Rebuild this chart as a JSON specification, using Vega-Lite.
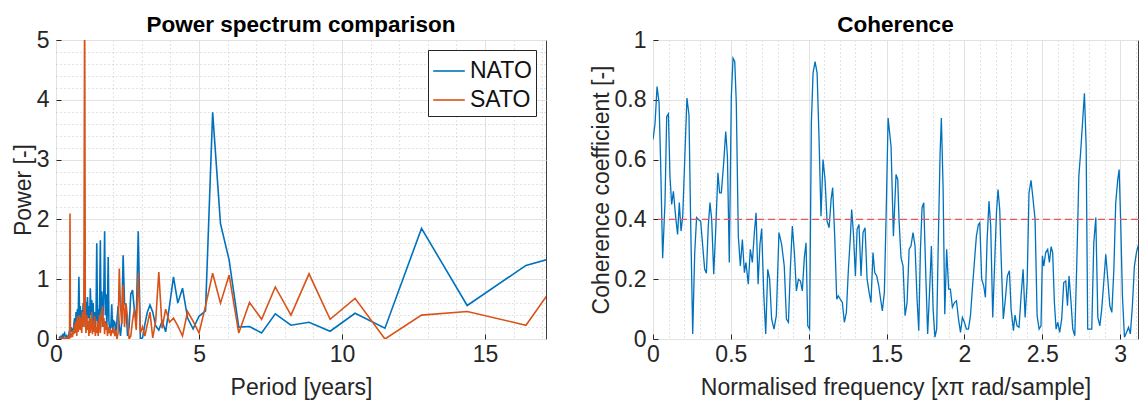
{
  "$schema": "https://vega.github.io/schema/vega-lite/v6.json",
  "background": "white",
  "padding": {"left": 11, "top": 13, "right": 0, "bottom": 0},
  "spacing": 42,
  "resolve": {"legend": {"color": "independent"}, "scale": {"color": "independent"}},
  "config": {
    "font": "Liberation Sans",
    "view": {"stroke": "#404040", "strokeWidth": 1},
    "axis": {
      "labelFontSize": 23,
      "labelColor": "#262626",
      "titleFontSize": 23,
      "titleFontWeight": "normal",
      "titleColor": "#262626",
      "domain": false,
      "tickColor": "#262626",
      "tickSize": -5,
      "labelPadding": 12,
      "titlePadding": 1,
      "labelOverlap": false,
      "labelFlush": false,
      "gridWidth": 1
    },
    "axisX": {"labelPadding": 9, "titlePadding": 10},
    "title": {"fontSize": 22.5, "fontWeight": "bold", "color": "#000000", "offset": -7}
  },
  "hconcat": [
    {
      "width": 490,
      "height": 299,
      "title": "Power spectrum comparison",
      "data": {"values": [
        {"period": 0.100, "power": 0.02, "series": "NATO"},
        {"period": 0.125, "power": 0.03, "series": "NATO"},
        {"period": 0.150, "power": 0.01, "series": "NATO"},
        {"period": 0.175, "power": 0.04, "series": "NATO"},
        {"period": 0.200, "power": 0.02, "series": "NATO"},
        {"period": 0.225, "power": 0.06, "series": "NATO"},
        {"period": 0.250, "power": 0.03, "series": "NATO"},
        {"period": 0.275, "power": 0.08, "series": "NATO"},
        {"period": 0.300, "power": 0.10, "series": "NATO"},
        {"period": 0.325, "power": 0.04, "series": "NATO"},
        {"period": 0.350, "power": 0.02, "series": "NATO"},
        {"period": 0.375, "power": 0.05, "series": "NATO"},
        {"period": 0.400, "power": 0.01, "series": "NATO"},
        {"period": 0.425, "power": 0.03, "series": "NATO"},
        {"period": 0.450, "power": 0.08, "series": "NATO"},
        {"period": 0.475, "power": 0.15, "series": "NATO"},
        {"period": 0.500, "power": 0.05, "series": "NATO"},
        {"period": 0.525, "power": 0.20, "series": "NATO"},
        {"period": 0.550, "power": 0.12, "series": "NATO"},
        {"period": 0.575, "power": 0.18, "series": "NATO"},
        {"period": 0.600, "power": 0.08, "series": "NATO"},
        {"period": 0.625, "power": 0.25, "series": "NATO"},
        {"period": 0.650, "power": 0.35, "series": "NATO"},
        {"period": 0.675, "power": 0.15, "series": "NATO"},
        {"period": 0.700, "power": 0.45, "series": "NATO"},
        {"period": 0.725, "power": 0.28, "series": "NATO"},
        {"period": 0.750, "power": 0.50, "series": "NATO"},
        {"period": 0.775, "power": 0.30, "series": "NATO"},
        {"period": 0.800, "power": 1.04, "series": "NATO"},
        {"period": 0.825, "power": 0.35, "series": "NATO"},
        {"period": 0.850, "power": 0.55, "series": "NATO"},
        {"period": 0.875, "power": 0.25, "series": "NATO"},
        {"period": 0.900, "power": 0.48, "series": "NATO"},
        {"period": 0.925, "power": 0.30, "series": "NATO"},
        {"period": 0.950, "power": 0.60, "series": "NATO"},
        {"period": 0.975, "power": 0.20, "series": "NATO"},
        {"period": 1.000, "power": 1.33, "series": "NATO"},
        {"period": 1.025, "power": 0.40, "series": "NATO"},
        {"period": 1.050, "power": 0.62, "series": "NATO"},
        {"period": 1.075, "power": 0.30, "series": "NATO"},
        {"period": 1.100, "power": 0.70, "series": "NATO"},
        {"period": 1.125, "power": 0.35, "series": "NATO"},
        {"period": 1.150, "power": 0.55, "series": "NATO"},
        {"period": 1.175, "power": 0.25, "series": "NATO"},
        {"period": 1.200, "power": 0.85, "series": "NATO"},
        {"period": 1.225, "power": 0.40, "series": "NATO"},
        {"period": 1.250, "power": 0.65, "series": "NATO"},
        {"period": 1.275, "power": 0.20, "series": "NATO"},
        {"period": 1.300, "power": 0.60, "series": "NATO"},
        {"period": 1.325, "power": 0.15, "series": "NATO"},
        {"period": 1.350, "power": 0.45, "series": "NATO"},
        {"period": 1.375, "power": 0.20, "series": "NATO"},
        {"period": 1.400, "power": 0.40, "series": "NATO"},
        {"period": 1.425, "power": 1.60, "series": "NATO"},
        {"period": 1.450, "power": 0.30, "series": "NATO"},
        {"period": 1.475, "power": 0.50, "series": "NATO"},
        {"period": 1.500, "power": 0.25, "series": "NATO"},
        {"period": 1.525, "power": 0.60, "series": "NATO"},
        {"period": 1.550, "power": 1.65, "series": "NATO"},
        {"period": 1.575, "power": 0.35, "series": "NATO"},
        {"period": 1.600, "power": 0.80, "series": "NATO"},
        {"period": 1.625, "power": 0.20, "series": "NATO"},
        {"period": 1.650, "power": 0.50, "series": "NATO"},
        {"period": 1.675, "power": 0.90, "series": "NATO"},
        {"period": 1.700, "power": 1.80, "series": "NATO"},
        {"period": 1.725, "power": 0.40, "series": "NATO"},
        {"period": 1.750, "power": 0.75, "series": "NATO"},
        {"period": 1.775, "power": 0.20, "series": "NATO"},
        {"period": 1.800, "power": 0.55, "series": "NATO"},
        {"period": 1.825, "power": 1.37, "series": "NATO"},
        {"period": 1.850, "power": 0.30, "series": "NATO"},
        {"period": 1.875, "power": 0.15, "series": "NATO"},
        {"period": 1.917, "power": 0.20, "series": "NATO"},
        {"period": 1.949, "power": 0.58, "series": "NATO"},
        {"period": 1.983, "power": 0.10, "series": "NATO"},
        {"period": 2.018, "power": 0.30, "series": "NATO"},
        {"period": 2.054, "power": 0.28, "series": "NATO"},
        {"period": 2.091, "power": 0.10, "series": "NATO"},
        {"period": 2.130, "power": 0.30, "series": "NATO"},
        {"period": 2.170, "power": 0.55, "series": "NATO"},
        {"period": 2.212, "power": 0.20, "series": "NATO"},
        {"period": 2.255, "power": 0.05, "series": "NATO"},
        {"period": 2.300, "power": 0.30, "series": "NATO"},
        {"period": 2.347, "power": 1.40, "series": "NATO"},
        {"period": 2.396, "power": 0.60, "series": "NATO"},
        {"period": 2.447, "power": 0.55, "series": "NATO"},
        {"period": 2.500, "power": 0.05, "series": "NATO"},
        {"period": 2.556, "power": 0.20, "series": "NATO"},
        {"period": 2.614, "power": 0.75, "series": "NATO"},
        {"period": 2.674, "power": 0.82, "series": "NATO"},
        {"period": 2.738, "power": 0.50, "series": "NATO"},
        {"period": 2.805, "power": 0.30, "series": "NATO"},
        {"period": 2.875, "power": 1.80, "series": "NATO"},
        {"period": 2.949, "power": 0.00, "series": "NATO"},
        {"period": 3.026, "power": 0.02, "series": "NATO"},
        {"period": 3.108, "power": 0.25, "series": "NATO"},
        {"period": 3.194, "power": 0.45, "series": "NATO"},
        {"period": 3.286, "power": 0.57, "series": "NATO"},
        {"period": 3.382, "power": 0.45, "series": "NATO"},
        {"period": 3.485, "power": 0.22, "series": "NATO"},
        {"period": 3.594, "power": 0.15, "series": "NATO"},
        {"period": 3.710, "power": 0.30, "series": "NATO"},
        {"period": 3.833, "power": 0.12, "series": "NATO"},
        {"period": 3.966, "power": 0.55, "series": "NATO"},
        {"period": 4.107, "power": 1.04, "series": "NATO"},
        {"period": 4.259, "power": 0.60, "series": "NATO"},
        {"period": 4.423, "power": 0.85, "series": "NATO"},
        {"period": 4.600, "power": 0.35, "series": "NATO"},
        {"period": 4.792, "power": 0.17, "series": "NATO"},
        {"period": 5.000, "power": 0.38, "series": "NATO"},
        {"period": 5.227, "power": 0.47, "series": "NATO"},
        {"period": 5.476, "power": 3.79, "series": "NATO"},
        {"period": 5.750, "power": 1.93, "series": "NATO"},
        {"period": 6.053, "power": 1.32, "series": "NATO"},
        {"period": 6.389, "power": 0.20, "series": "NATO"},
        {"period": 6.765, "power": 0.21, "series": "NATO"},
        {"period": 7.188, "power": 0.10, "series": "NATO"},
        {"period": 7.667, "power": 0.42, "series": "NATO"},
        {"period": 8.214, "power": 0.23, "series": "NATO"},
        {"period": 8.846, "power": 0.28, "series": "NATO"},
        {"period": 9.583, "power": 0.13, "series": "NATO"},
        {"period": 10.455, "power": 0.43, "series": "NATO"},
        {"period": 11.500, "power": 0.18, "series": "NATO"},
        {"period": 12.778, "power": 1.85, "series": "NATO"},
        {"period": 14.375, "power": 0.56, "series": "NATO"},
        {"period": 16.429, "power": 1.23, "series": "NATO"},
        {"period": 19.167, "power": 1.59, "series": "NATO"},
        {"period": 0.100, "power": 0.00, "series": "SATO"},
        {"period": 0.125, "power": 0.01, "series": "SATO"},
        {"period": 0.150, "power": 0.00, "series": "SATO"},
        {"period": 0.175, "power": 0.02, "series": "SATO"},
        {"period": 0.200, "power": 0.00, "series": "SATO"},
        {"period": 0.225, "power": 0.01, "series": "SATO"},
        {"period": 0.250, "power": 0.00, "series": "SATO"},
        {"period": 0.275, "power": 0.02, "series": "SATO"},
        {"period": 0.300, "power": 0.00, "series": "SATO"},
        {"period": 0.325, "power": 0.01, "series": "SATO"},
        {"period": 0.350, "power": 0.02, "series": "SATO"},
        {"period": 0.375, "power": 0.00, "series": "SATO"},
        {"period": 0.400, "power": 0.01, "series": "SATO"},
        {"period": 0.425, "power": 0.03, "series": "SATO"},
        {"period": 0.450, "power": 0.00, "series": "SATO"},
        {"period": 0.475, "power": 0.02, "series": "SATO"},
        {"period": 0.490, "power": 2.10, "series": "SATO"},
        {"period": 0.505, "power": 0.02, "series": "SATO"},
        {"period": 0.525, "power": 0.05, "series": "SATO"},
        {"period": 0.550, "power": 0.10, "series": "SATO"},
        {"period": 0.575, "power": 0.03, "series": "SATO"},
        {"period": 0.600, "power": 0.15, "series": "SATO"},
        {"period": 0.625, "power": 0.08, "series": "SATO"},
        {"period": 0.650, "power": 0.25, "series": "SATO"},
        {"period": 0.675, "power": 0.10, "series": "SATO"},
        {"period": 0.700, "power": 0.30, "series": "SATO"},
        {"period": 0.725, "power": 0.05, "series": "SATO"},
        {"period": 0.750, "power": 0.38, "series": "SATO"},
        {"period": 0.775, "power": 0.12, "series": "SATO"},
        {"period": 0.800, "power": 0.20, "series": "SATO"},
        {"period": 0.825, "power": 0.40, "series": "SATO"},
        {"period": 0.850, "power": 0.15, "series": "SATO"},
        {"period": 0.875, "power": 0.35, "series": "SATO"},
        {"period": 0.900, "power": 0.10, "series": "SATO"},
        {"period": 0.925, "power": 0.45, "series": "SATO"},
        {"period": 0.950, "power": 0.20, "series": "SATO"},
        {"period": 0.975, "power": 0.35, "series": "SATO"},
        {"period": 1.000, "power": 5.80, "series": "SATO"},
        {"period": 1.025, "power": 0.30, "series": "SATO"},
        {"period": 1.050, "power": 0.10, "series": "SATO"},
        {"period": 1.075, "power": 0.40, "series": "SATO"},
        {"period": 1.100, "power": 0.15, "series": "SATO"},
        {"period": 1.125, "power": 0.30, "series": "SATO"},
        {"period": 1.150, "power": 0.05, "series": "SATO"},
        {"period": 1.175, "power": 0.35, "series": "SATO"},
        {"period": 1.200, "power": 0.10, "series": "SATO"},
        {"period": 1.225, "power": 0.25, "series": "SATO"},
        {"period": 1.250, "power": 0.45, "series": "SATO"},
        {"period": 1.275, "power": 0.08, "series": "SATO"},
        {"period": 1.300, "power": 0.30, "series": "SATO"},
        {"period": 1.325, "power": 0.12, "series": "SATO"},
        {"period": 1.350, "power": 0.38, "series": "SATO"},
        {"period": 1.375, "power": 0.05, "series": "SATO"},
        {"period": 1.400, "power": 0.20, "series": "SATO"},
        {"period": 1.425, "power": 0.10, "series": "SATO"},
        {"period": 1.450, "power": 0.30, "series": "SATO"},
        {"period": 1.475, "power": 0.05, "series": "SATO"},
        {"period": 1.500, "power": 0.25, "series": "SATO"},
        {"period": 1.525, "power": 0.40, "series": "SATO"},
        {"period": 1.550, "power": 0.10, "series": "SATO"},
        {"period": 1.575, "power": 0.30, "series": "SATO"},
        {"period": 1.600, "power": 0.45, "series": "SATO"},
        {"period": 1.625, "power": 0.55, "series": "SATO"},
        {"period": 1.650, "power": 0.20, "series": "SATO"},
        {"period": 1.675, "power": 0.35, "series": "SATO"},
        {"period": 1.700, "power": 0.08, "series": "SATO"},
        {"period": 1.725, "power": 0.30, "series": "SATO"},
        {"period": 1.750, "power": 0.15, "series": "SATO"},
        {"period": 1.775, "power": 0.25, "series": "SATO"},
        {"period": 1.800, "power": 0.05, "series": "SATO"},
        {"period": 1.825, "power": 0.20, "series": "SATO"},
        {"period": 1.850, "power": 0.10, "series": "SATO"},
        {"period": 1.875, "power": 0.18, "series": "SATO"},
        {"period": 1.917, "power": 0.05, "series": "SATO"},
        {"period": 1.949, "power": 0.15, "series": "SATO"},
        {"period": 1.983, "power": 0.10, "series": "SATO"},
        {"period": 2.018, "power": 0.20, "series": "SATO"},
        {"period": 2.054, "power": 0.05, "series": "SATO"},
        {"period": 2.091, "power": 0.15, "series": "SATO"},
        {"period": 2.130, "power": 0.00, "series": "SATO"},
        {"period": 2.170, "power": 0.10, "series": "SATO"},
        {"period": 2.212, "power": 1.18, "series": "SATO"},
        {"period": 2.255, "power": 0.55, "series": "SATO"},
        {"period": 2.300, "power": 0.25, "series": "SATO"},
        {"period": 2.347, "power": 0.90, "series": "SATO"},
        {"period": 2.396, "power": 0.20, "series": "SATO"},
        {"period": 2.447, "power": 0.60, "series": "SATO"},
        {"period": 2.500, "power": 0.35, "series": "SATO"},
        {"period": 2.556, "power": 0.00, "series": "SATO"},
        {"period": 2.614, "power": 0.05, "series": "SATO"},
        {"period": 2.674, "power": 0.30, "series": "SATO"},
        {"period": 2.738, "power": 0.50, "series": "SATO"},
        {"period": 2.805, "power": 0.15, "series": "SATO"},
        {"period": 2.875, "power": 1.10, "series": "SATO"},
        {"period": 2.949, "power": 0.10, "series": "SATO"},
        {"period": 3.026, "power": 0.20, "series": "SATO"},
        {"period": 3.108, "power": 0.05, "series": "SATO"},
        {"period": 3.194, "power": 0.25, "series": "SATO"},
        {"period": 3.286, "power": 0.45, "series": "SATO"},
        {"period": 3.382, "power": 0.02, "series": "SATO"},
        {"period": 3.485, "power": 0.30, "series": "SATO"},
        {"period": 3.594, "power": 1.12, "series": "SATO"},
        {"period": 3.710, "power": 0.18, "series": "SATO"},
        {"period": 3.833, "power": 0.50, "series": "SATO"},
        {"period": 3.966, "power": 0.28, "series": "SATO"},
        {"period": 4.107, "power": 0.35, "series": "SATO"},
        {"period": 4.259, "power": 0.22, "series": "SATO"},
        {"period": 4.423, "power": 0.05, "series": "SATO"},
        {"period": 4.600, "power": 0.46, "series": "SATO"},
        {"period": 4.792, "power": 0.30, "series": "SATO"},
        {"period": 5.000, "power": 0.10, "series": "SATO"},
        {"period": 5.227, "power": 0.55, "series": "SATO"},
        {"period": 5.476, "power": 1.10, "series": "SATO"},
        {"period": 5.750, "power": 0.60, "series": "SATO"},
        {"period": 6.053, "power": 1.07, "series": "SATO"},
        {"period": 6.389, "power": 0.10, "series": "SATO"},
        {"period": 6.765, "power": 0.61, "series": "SATO"},
        {"period": 7.188, "power": 0.33, "series": "SATO"},
        {"period": 7.667, "power": 0.87, "series": "SATO"},
        {"period": 8.214, "power": 0.40, "series": "SATO"},
        {"period": 8.846, "power": 1.09, "series": "SATO"},
        {"period": 9.583, "power": 0.33, "series": "SATO"},
        {"period": 10.455, "power": 0.68, "series": "SATO"},
        {"period": 11.500, "power": 0.00, "series": "SATO"},
        {"period": 12.778, "power": 0.40, "series": "SATO"},
        {"period": 14.375, "power": 0.46, "series": "SATO"},
        {"period": 16.429, "power": 0.23, "series": "SATO"},
        {"period": 19.167, "power": 2.09, "series": "SATO"}
      ]},
      "mark": {"type": "line", "strokeWidth": 1.6, "clip": true},
      "encoding": {
        "x": {
          "field": "period", "type": "quantitative",
          "scale": {"domain": [0, 17.13], "nice": false},
          "axis": {
            "title": "Period [years]",
            "values": [0,1,2,3,4,5,6,7,8,9,10,11,12,13,14,15,16,17],
            "format": "~g",
            "labelExpr": "datum.value % 5 === 0 ? datum.label : ''",
            "grid": true,
            "gridDash": {"condition": {"test": "datum.value % 5 === 0", "value": []}, "value": [1, 3]},
            "gridColor": {"condition": {"test": "datum.value % 5 === 0", "value": "#e2e2e2"}, "value": "#c6c6c6"},
            "tickOpacity": {"condition": {"test": "datum.value % 5 === 0", "value": 1}, "value": 0}
          }
        },
        "y": {
          "field": "power", "type": "quantitative",
          "scale": {"domain": [0, 5], "nice": false},
          "axis": {
            "title": "Power [-]",
            "values": [0,0.2,0.4,0.6,0.8,1,1.2,1.4,1.6,1.8,2,2.2,2.4,2.6,2.8,3,3.2,3.4,3.6,3.8,4,4.2,4.4,4.6,4.8,5],
            "format": "~g",
            "labelExpr": "abs(datum.value - round(datum.value)) < 1e-6 ? datum.label : ''",
            "grid": true,
            "gridDash": {"condition": {"test": "abs(datum.value - round(datum.value)) < 1e-6", "value": []}, "value": [1, 3]},
            "gridColor": {"condition": {"test": "abs(datum.value - round(datum.value)) < 1e-6", "value": "#e2e2e2"}, "value": "#c6c6c6"},
            "tickOpacity": {"condition": {"test": "abs(datum.value - round(datum.value)) < 1e-6", "value": 1}, "value": 0}
          }
        },
        "color": {
          "field": "series", "type": "nominal",
          "scale": {"domain": ["NATO", "SATO"], "range": ["#0072BD", "#D95319"]},
          "legend": {
            "title": null,
            "orient": "top-right",
            "offset": 10,
            "fillColor": "white",
            "strokeColor": "#262626",
            "padding": 4,
            "labelFontSize": 23,
            "labelColor": "#111111",
            "symbolType": "stroke",
            "symbolSize": 1000,
            "symbolStrokeWidth": 1.6,
            "labelOffset": 4,
            "rowPadding": 0
          }
        }
      }
    },
    {
      "width": 485,
      "height": 299,
      "title": "Coherence",
      "layer": [
        {
          "data": {"values": [
            {"f": 0.000, "c": 0.667}, {"f": 0.013, "c": 0.72}, {"f": 0.026, "c": 0.844}, {"f": 0.039, "c": 0.79},
            {"f": 0.049, "c": 0.59}, {"f": 0.062, "c": 0.27}, {"f": 0.077, "c": 0.456}, {"f": 0.088, "c": 0.744},
            {"f": 0.099, "c": 0.753}, {"f": 0.109, "c": 0.544}, {"f": 0.120, "c": 0.45}, {"f": 0.131, "c": 0.494},
            {"f": 0.146, "c": 0.406}, {"f": 0.158, "c": 0.35}, {"f": 0.169, "c": 0.456}, {"f": 0.180, "c": 0.361},
            {"f": 0.191, "c": 0.411}, {"f": 0.206, "c": 0.633}, {"f": 0.218, "c": 0.806}, {"f": 0.231, "c": 0.75},
            {"f": 0.242, "c": 0.389}, {"f": 0.255, "c": 0.017}, {"f": 0.268, "c": 0.289}, {"f": 0.280, "c": 0.406},
            {"f": 0.295, "c": 0.398}, {"f": 0.306, "c": 0.394}, {"f": 0.321, "c": 0.30}, {"f": 0.332, "c": 0.233},
            {"f": 0.343, "c": 0.22}, {"f": 0.355, "c": 0.378}, {"f": 0.366, "c": 0.456}, {"f": 0.377, "c": 0.40},
            {"f": 0.390, "c": 0.217}, {"f": 0.403, "c": 0.367}, {"f": 0.417, "c": 0.556}, {"f": 0.428, "c": 0.489},
            {"f": 0.439, "c": 0.489}, {"f": 0.454, "c": 0.589}, {"f": 0.467, "c": 0.694}, {"f": 0.478, "c": 0.611},
            {"f": 0.490, "c": 0.256}, {"f": 0.503, "c": 0.811}, {"f": 0.514, "c": 0.939}, {"f": 0.525, "c": 0.928},
            {"f": 0.535, "c": 0.789}, {"f": 0.548, "c": 0.344}, {"f": 0.561, "c": 0.244}, {"f": 0.574, "c": 0.333},
            {"f": 0.587, "c": 0.222}, {"f": 0.597, "c": 0.256}, {"f": 0.612, "c": 0.183}, {"f": 0.625, "c": 0.30},
            {"f": 0.638, "c": 0.256}, {"f": 0.651, "c": 0.356}, {"f": 0.662, "c": 0.422}, {"f": 0.675, "c": 0.183},
            {"f": 0.687, "c": 0.317}, {"f": 0.698, "c": 0.369}, {"f": 0.711, "c": 0.156}, {"f": 0.724, "c": 0.017},
            {"f": 0.737, "c": 0.233}, {"f": 0.749, "c": 0.20}, {"f": 0.762, "c": 0.067}, {"f": 0.777, "c": 0.033},
            {"f": 0.792, "c": 0.078}, {"f": 0.809, "c": 0.356}, {"f": 0.826, "c": 0.317}, {"f": 0.843, "c": 0.244},
            {"f": 0.857, "c": 0.067}, {"f": 0.870, "c": 0.056}, {"f": 0.882, "c": 0.233}, {"f": 0.895, "c": 0.378},
            {"f": 0.908, "c": 0.289}, {"f": 0.921, "c": 0.161}, {"f": 0.934, "c": 0.20}, {"f": 0.947, "c": 0.194},
            {"f": 0.959, "c": 0.161}, {"f": 0.972, "c": 0.272}, {"f": 0.983, "c": 0.322}, {"f": 0.994, "c": 0.044},
            {"f": 1.006, "c": 0.033}, {"f": 1.017, "c": 0.722}, {"f": 1.028, "c": 0.889}, {"f": 1.041, "c": 0.928},
            {"f": 1.054, "c": 0.889}, {"f": 1.066, "c": 0.678}, {"f": 1.079, "c": 0.411}, {"f": 1.092, "c": 0.60},
            {"f": 1.105, "c": 0.533}, {"f": 1.118, "c": 0.394}, {"f": 1.131, "c": 0.372}, {"f": 1.144, "c": 0.467},
            {"f": 1.154, "c": 0.506}, {"f": 1.167, "c": 0.344}, {"f": 1.180, "c": 0.133}, {"f": 1.190, "c": 0.144},
            {"f": 1.203, "c": 0.133}, {"f": 1.216, "c": 0.122}, {"f": 1.229, "c": 0.056}, {"f": 1.242, "c": 0.089},
            {"f": 1.255, "c": 0.233}, {"f": 1.268, "c": 0.344}, {"f": 1.276, "c": 0.433}, {"f": 1.287, "c": 0.356},
            {"f": 1.300, "c": 0.211}, {"f": 1.311, "c": 0.367}, {"f": 1.323, "c": 0.383}, {"f": 1.336, "c": 0.211},
            {"f": 1.349, "c": 0.356}, {"f": 1.362, "c": 0.372}, {"f": 1.375, "c": 0.20}, {"f": 1.388, "c": 0.156},
            {"f": 1.400, "c": 0.122}, {"f": 1.413, "c": 0.289}, {"f": 1.424, "c": 0.222}, {"f": 1.437, "c": 0.211},
            {"f": 1.450, "c": 0.178}, {"f": 1.462, "c": 0.133}, {"f": 1.473, "c": 0.094}, {"f": 1.486, "c": 0.156},
            {"f": 1.499, "c": 0.456}, {"f": 1.510, "c": 0.739}, {"f": 1.529, "c": 0.644}, {"f": 1.544, "c": 0.344},
            {"f": 1.561, "c": 0.55}, {"f": 1.572, "c": 0.533}, {"f": 1.580, "c": 0.40}, {"f": 1.593, "c": 0.272},
            {"f": 1.606, "c": 0.244}, {"f": 1.619, "c": 0.078}, {"f": 1.632, "c": 0.122}, {"f": 1.645, "c": 0.30},
            {"f": 1.657, "c": 0.311}, {"f": 1.670, "c": 0.356}, {"f": 1.683, "c": 0.311}, {"f": 1.696, "c": 0.133},
            {"f": 1.707, "c": 0.028}, {"f": 1.717, "c": 0.289}, {"f": 1.728, "c": 0.439}, {"f": 1.739, "c": 0.456},
            {"f": 1.751, "c": 0.233}, {"f": 1.764, "c": 0.017}, {"f": 1.777, "c": 0.167}, {"f": 1.788, "c": 0.311},
            {"f": 1.799, "c": 0.10}, {"f": 1.811, "c": 0.006}, {"f": 1.822, "c": 0.033}, {"f": 1.833, "c": 0.344},
            {"f": 1.844, "c": 0.622}, {"f": 1.852, "c": 0.739}, {"f": 1.863, "c": 0.511}, {"f": 1.874, "c": 0.083},
            {"f": 1.886, "c": 0.30}, {"f": 1.899, "c": 0.167}, {"f": 1.910, "c": 0.167}, {"f": 1.923, "c": 0.106},
            {"f": 1.936, "c": 0.122}, {"f": 1.949, "c": 0.128}, {"f": 1.962, "c": 0.067}, {"f": 1.975, "c": 0.022},
            {"f": 1.987, "c": 0.072}, {"f": 2.000, "c": 0.056}, {"f": 2.013, "c": 0.033}, {"f": 2.026, "c": 0.033},
            {"f": 2.039, "c": 0.078}, {"f": 2.051, "c": 0.167}, {"f": 2.064, "c": 0.256}, {"f": 2.077, "c": 0.344},
            {"f": 2.090, "c": 0.383}, {"f": 2.099, "c": 0.389}, {"f": 2.111, "c": 0.20}, {"f": 2.124, "c": 0.178},
            {"f": 2.135, "c": 0.139}, {"f": 2.146, "c": 0.333}, {"f": 2.158, "c": 0.461}, {"f": 2.169, "c": 0.378},
            {"f": 2.182, "c": 0.072}, {"f": 2.193, "c": 0.233}, {"f": 2.206, "c": 0.422}, {"f": 2.216, "c": 0.50},
            {"f": 2.227, "c": 0.433}, {"f": 2.237, "c": 0.256}, {"f": 2.250, "c": 0.067}, {"f": 2.263, "c": 0.133},
            {"f": 2.276, "c": 0.211}, {"f": 2.289, "c": 0.228}, {"f": 2.300, "c": 0.10}, {"f": 2.315, "c": 0.028},
            {"f": 2.325, "c": 0.08}, {"f": 2.338, "c": 0.044}, {"f": 2.351, "c": 0.039}, {"f": 2.364, "c": 0.144},
            {"f": 2.377, "c": 0.233}, {"f": 2.390, "c": 0.072}, {"f": 2.403, "c": 0.189}, {"f": 2.415, "c": 0.489},
            {"f": 2.428, "c": 0.531}, {"f": 2.441, "c": 0.467}, {"f": 2.454, "c": 0.40}, {"f": 2.467, "c": 0.078},
            {"f": 2.480, "c": 0.033}, {"f": 2.492, "c": 0.044}, {"f": 2.501, "c": 0.278}, {"f": 2.510, "c": 0.244},
            {"f": 2.522, "c": 0.289}, {"f": 2.535, "c": 0.30}, {"f": 2.546, "c": 0.256}, {"f": 2.557, "c": 0.309},
            {"f": 2.567, "c": 0.289}, {"f": 2.578, "c": 0.122}, {"f": 2.589, "c": 0.033}, {"f": 2.600, "c": 0.056},
            {"f": 2.612, "c": 0.022}, {"f": 2.625, "c": 0.067}, {"f": 2.638, "c": 0.189}, {"f": 2.651, "c": 0.194},
            {"f": 2.662, "c": 0.111}, {"f": 2.672, "c": 0.211}, {"f": 2.685, "c": 0.122}, {"f": 2.696, "c": 0.033},
            {"f": 2.709, "c": 0.011}, {"f": 2.722, "c": 0.256}, {"f": 2.735, "c": 0.544}, {"f": 2.747, "c": 0.628},
            {"f": 2.760, "c": 0.733}, {"f": 2.771, "c": 0.822}, {"f": 2.782, "c": 0.644}, {"f": 2.792, "c": 0.033},
            {"f": 2.805, "c": 0.033}, {"f": 2.818, "c": 0.033}, {"f": 2.831, "c": 0.322}, {"f": 2.844, "c": 0.406},
            {"f": 2.857, "c": 0.072}, {"f": 2.870, "c": 0.044}, {"f": 2.882, "c": 0.10}, {"f": 2.895, "c": 0.189},
            {"f": 2.908, "c": 0.283}, {"f": 2.921, "c": 0.20}, {"f": 2.934, "c": 0.111}, {"f": 2.947, "c": 0.089},
            {"f": 2.960, "c": 0.233}, {"f": 2.972, "c": 0.456}, {"f": 2.985, "c": 0.533}, {"f": 2.994, "c": 0.567},
            {"f": 3.004, "c": 0.389}, {"f": 3.015, "c": 0.144}, {"f": 3.028, "c": 0.006}, {"f": 3.041, "c": 0.022},
            {"f": 3.054, "c": 0.039}, {"f": 3.066, "c": 0.017}, {"f": 3.079, "c": 0.111}, {"f": 3.092, "c": 0.244},
            {"f": 3.105, "c": 0.289}, {"f": 3.116, "c": 0.311}, {"f": 3.130, "c": 0.33}
          ]},
          "mark": {"type": "line", "strokeWidth": 1.3, "color": "#0072BD", "clip": true},
          "encoding": {
            "x": {
              "field": "f", "type": "quantitative",
              "scale": {"domain": [0, 3.115], "nice": false},
              "axis": {
                "title": "Normalised frequency [xπ rad/sample]",
                "values": [0,0.1,0.2,0.3,0.4,0.5,0.6,0.7,0.8,0.9,1,1.1,1.2,1.3,1.4,1.5,1.6,1.7,1.8,1.9,2,2.1,2.2,2.3,2.4,2.5,2.6,2.7,2.8,2.9,3,3.1],
                "format": "~g",
                "labelExpr": "abs(datum.value*2 - round(datum.value*2)) < 1e-6 ? datum.label : ''",
                "grid": true,
                "gridDash": {"condition": {"test": "abs(datum.value*2 - round(datum.value*2)) < 1e-6", "value": []}, "value": [1, 3]},
                "gridColor": {"condition": {"test": "abs(datum.value*2 - round(datum.value*2)) < 1e-6", "value": "#e2e2e2"}, "value": "#c6c6c6"},
                "tickOpacity": {"condition": {"test": "abs(datum.value*2 - round(datum.value*2)) < 1e-6", "value": 1}, "value": 0}
              }
            },
            "y": {
              "field": "c", "type": "quantitative",
              "scale": {"domain": [0, 1], "nice": false},
              "axis": {
                "title": "Coherence coefficient [-]",
                "values": [0,0.05,0.1,0.15,0.2,0.25,0.3,0.35,0.4,0.45,0.5,0.55,0.6,0.65,0.7,0.75,0.8,0.85,0.9,0.95,1],
                "format": "~g",
                "labelExpr": "abs(datum.value*5 - round(datum.value*5)) < 1e-6 ? datum.label : ''",
                "grid": true,
                "gridDash": {"condition": {"test": "abs(datum.value*5 - round(datum.value*5)) < 1e-6", "value": []}, "value": [1, 3]},
                "gridColor": {"condition": {"test": "abs(datum.value*5 - round(datum.value*5)) < 1e-6", "value": "#e2e2e2"}, "value": "#c6c6c6"},
                "tickOpacity": {"condition": {"test": "abs(datum.value*5 - round(datum.value*5)) < 1e-6", "value": 1}, "value": 0}
              }
            }
          }
        },
        {
          "data": {"values": [{"threshold": 0.4}]},
          "mark": {"type": "rule", "color": "#E4575C", "strokeWidth": 1.3, "strokeDash": [7, 4]},
          "encoding": {
            "y": {"field": "threshold", "type": "quantitative", "title": "Coherence coefficient [-]"}
          }
        }
      ]
    }
  ]
}
